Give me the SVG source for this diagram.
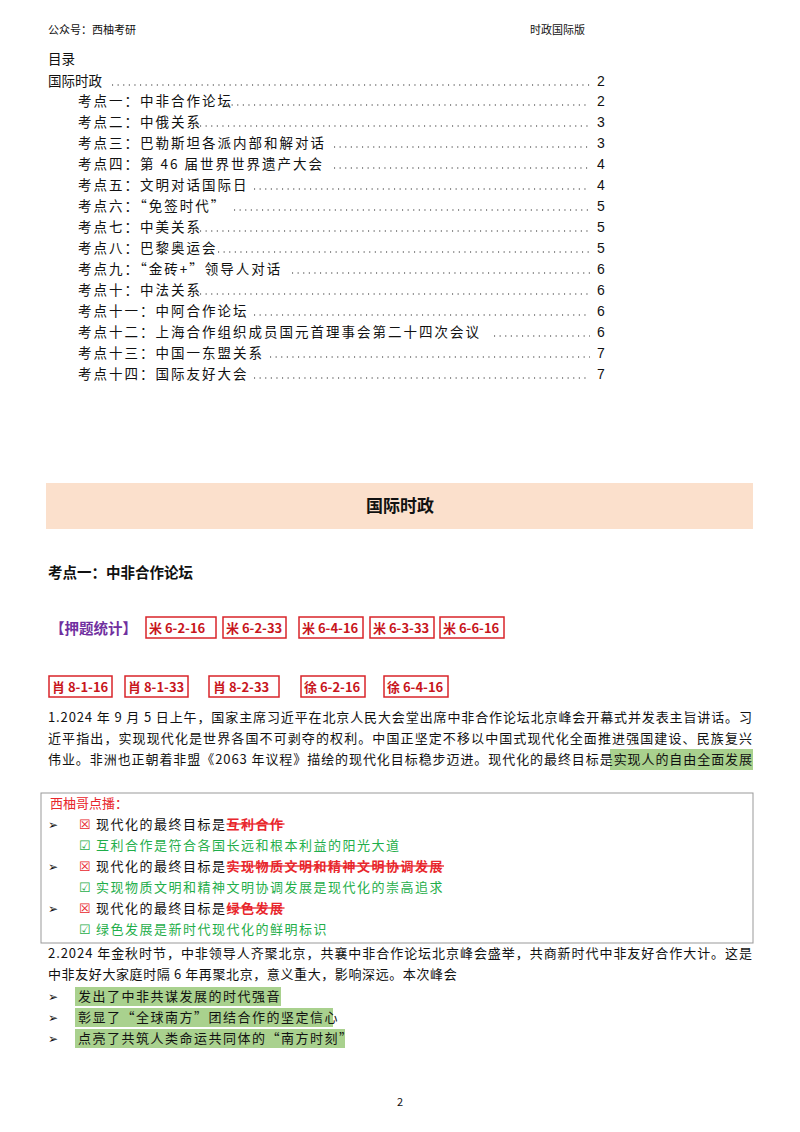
<svg xmlns="http://www.w3.org/2000/svg" width="800" height="1132" viewBox="0 0 800 1132">
<style>
text{font-family:"Noto Sans CJK SC","Liberation Serif",sans-serif;font-size:13px;fill:#111}
.t{font-size:13.5px}
.n{font-family:"Liberation Sans",sans-serif;font-size:14px}
.dot{stroke:#222;stroke-width:1.1;stroke-dasharray:1.1 4.5;fill:none}
.tag rect{fill:none;stroke:#d9242a;stroke-width:1.5}
.tag text{fill:#c8161d;font-weight:bold;font-size:13px}
.r{fill:#e8262c}.g{fill:#1fae4a}
.hl{fill:#a9d18e}
</style>
<rect width="800" height="1132" fill="#fff"/>
<text x="48" y="34" style="font-size:11px">公众号：西柚考研</text>
<text x="530" y="34" style="font-size:11px">时政国际版</text>
<g id="toc">
<text x="48" y="64" class="t">目录</text>
<text x="48" y="86" class="t">国际时政</text><path class="dot" d="M112 85H590"/><text x="597" y="86" class="n">2</text>
<text x="78" y="106" class="t" letter-spacing="2">考点一：中非合作论坛</text><path class="dot" d="M226 105H590"/><text x="597" y="106" class="n">2</text>
<text x="78" y="127" class="t" letter-spacing="2">考点二：中俄关系</text><path class="dot" d="M200 126H590"/><text x="597" y="127" class="n">3</text>
<text x="78" y="148" class="t" letter-spacing="2">考点三：巴勒斯坦各派内部和解对话</text><path class="dot" d="M334 147H590"/><text x="597" y="148" class="n">3</text>
<text x="78" y="169" class="t" letter-spacing="2">考点四：第 46 届世界世界遗产大会</text><path class="dot" d="M334 168H590"/><text x="597" y="169" class="n">4</text>
<text x="78" y="190" class="t" letter-spacing="2">考点五：文明对话国际日</text><path class="dot" d="M254 189H590"/><text x="597" y="190" class="n">4</text>
<text x="78" y="211" class="t" letter-spacing="2">考点六：“免签时代”</text><path class="dot" d="M234 210H590"/><text x="597" y="211" class="n">5</text>
<text x="78" y="232" class="t" letter-spacing="2">考点七：中美关系</text><path class="dot" d="M200 231H590"/><text x="597" y="232" class="n">5</text>
<text x="78" y="253" class="t" letter-spacing="2">考点八：巴黎奥运会</text><path class="dot" d="M218 252H590"/><text x="597" y="253" class="n">5</text>
<text x="78" y="274" class="t" letter-spacing="2">考点九：“金砖+”领导人对话</text><path class="dot" d="M292 273H590"/><text x="597" y="274" class="n">6</text>
<text x="78" y="295" class="t" letter-spacing="2">考点十：中法关系</text><path class="dot" d="M200 294H590"/><text x="597" y="295" class="n">6</text>
<text x="78" y="316" class="t" letter-spacing="2">考点十一：中阿合作论坛</text><path class="dot" d="M254 315H590"/><text x="597" y="316" class="n">6</text>
<text x="78" y="337" class="t" letter-spacing="2">考点十二：上海合作组织成员国元首理事会第二十四次会议</text><path class="dot" d="M494 336H590"/><text x="597" y="337" class="n">6</text>
<text x="78" y="358" class="t" letter-spacing="2">考点十三：中国一东盟关系</text><path class="dot" d="M270 357H590"/><text x="597" y="358" class="n">7</text>
<text x="78" y="379" class="t" letter-spacing="2">考点十四：国际友好大会</text><path class="dot" d="M254 378H590"/><text x="597" y="379" class="n">7</text>
</g>
<g id="banner">
<rect x="46" y="483" width="707" height="46" fill="#fbe0cc"/>
<text x="400" y="512" text-anchor="middle" style="font-size:17px;font-weight:bold">国际时政</text>
</g>
<text x="48" y="578" style="font-size:14.5px;font-weight:bold">考点一：中非合作论坛</text>
<g id="tags">
<text x="50" y="634" style="fill:#7030a0;font-size:14.5px;font-weight:bold">【押题统计】</text>
<g class="tag">
<rect x="146" y="617" width="70" height="21"/><text x="149" y="633">米 6-2-16</text>
<rect x="223" y="617" width="63" height="21"/><text x="226" y="633">米 6-2-33</text>
<rect x="299" y="617" width="64" height="21"/><text x="302" y="633">米 6-4-16</text>
<rect x="370" y="617" width="64" height="21"/><text x="373" y="633">米 6-3-33</text>
<rect x="440" y="617" width="64" height="21"/><text x="443" y="633">米 6-6-16</text>
<rect x="49" y="676" width="63" height="21"/><text x="52" y="692">肖 8-1-16</text>
<rect x="125" y="676" width="63" height="21"/><text x="128" y="692">肖 8-1-33</text>
<rect x="209" y="676" width="70" height="21"/><text x="213" y="692">肖 8-2-33</text>
<rect x="301" y="676" width="64" height="21"/><text x="304" y="692">徐 6-2-16</text>
<rect x="384" y="676" width="64" height="21"/><text x="387" y="692">徐 6-4-16</text>
</g>
</g>
<g id="p1">
<rect x="610" y="749" width="143" height="21" class="hl"/>
<text x="48" y="722" textLength="704" lengthAdjust="spacing">1.2024 年 9 月 5 日上午，国家主席习近平在北京人民大会堂出席中非合作论坛北京峰会开幕式并发表主旨讲话。习</text>
<text x="48" y="743" textLength="704" lengthAdjust="spacing">近平指出，实现现代化是世界各国不可剥夺的权利。中国正坚定不移以中国式现代化全面推进强国建设、民族复兴</text>
<text x="48" y="764" textLength="704" lengthAdjust="spacing">伟业。非洲也正朝着非盟《2063 年议程》描绘的现代化目标稳步迈进。现代化的最终目标是实现人的自由全面发展</text>
</g>
<g id="box">
<rect x="41" y="793" width="712" height="150" fill="none" stroke="#999" stroke-width="1"/>
<text x="50" y="808" class="r">西柚哥点播：</text>
<text x="48" y="829" style="font-size:12px">➢</text>
<text x="79" y="829" class="r">☒</text><text x="96" y="829" letter-spacing="1.5">现代化的最终目标是<tspan class="r" font-weight="bold" text-decoration="line-through">互利合作</tspan></text>
<text x="79" y="850" class="g">☑</text><text x="96" y="850" class="g" letter-spacing="1.5">互利合作是符合各国长远和根本利益的阳光大道</text>
<text x="48" y="871" style="font-size:12px">➢</text>
<text x="79" y="871" class="r">☒</text><text x="96" y="871" letter-spacing="1.5">现代化的最终目标是<tspan class="r" font-weight="bold" text-decoration="line-through">实现物质文明和精神文明协调发展</tspan></text>
<text x="79" y="892" class="g">☑</text><text x="96" y="892" class="g" letter-spacing="1.5">实现物质文明和精神文明协调发展是现代化的崇高追求</text>
<text x="48" y="913" style="font-size:12px">➢</text>
<text x="79" y="913" class="r">☒</text><text x="96" y="913" letter-spacing="1.5">现代化的最终目标是<tspan class="r" font-weight="bold" text-decoration="line-through">绿色发展</tspan></text>
<text x="79" y="934" class="g">☑</text><text x="96" y="934" class="g" letter-spacing="1.5">绿色发展是新时代现代化的鲜明标识</text>
</g>
<g id="p2">
<text x="48" y="958" textLength="704" lengthAdjust="spacing">2.2024 年金秋时节，中非领导人齐聚北京，共襄中非合作论坛北京峰会盛举，共商新时代中非友好合作大计。这是</text>
<text x="48" y="979" letter-spacing="0.6">中非友好大家庭时隔 6 年再聚北京，意义重大，影响深远。本次峰会</text>
<rect x="75" y="987" width="206" height="19" class="hl"/>
<rect x="75" y="1008" width="258" height="19" class="hl"/>
<rect x="75" y="1029" width="270" height="19" class="hl"/>
<text x="48" y="1001" style="font-size:12px">➢</text><text x="78" y="1001" letter-spacing="1.5">发出了中非共谋发展的时代强音</text>
<text x="48" y="1022" style="font-size:12px">➢</text><text x="78" y="1022" letter-spacing="1.5">彰显了“全球南方”团结合作的坚定信心</text>
<text x="48" y="1043" style="font-size:12px">➢</text><text x="78" y="1043" letter-spacing="1.5">点亮了共筑人类命运共同体的“南方时刻”</text>
</g>
<text x="400" y="1106" text-anchor="middle" style="font-size:11px">2</text>
</svg>
